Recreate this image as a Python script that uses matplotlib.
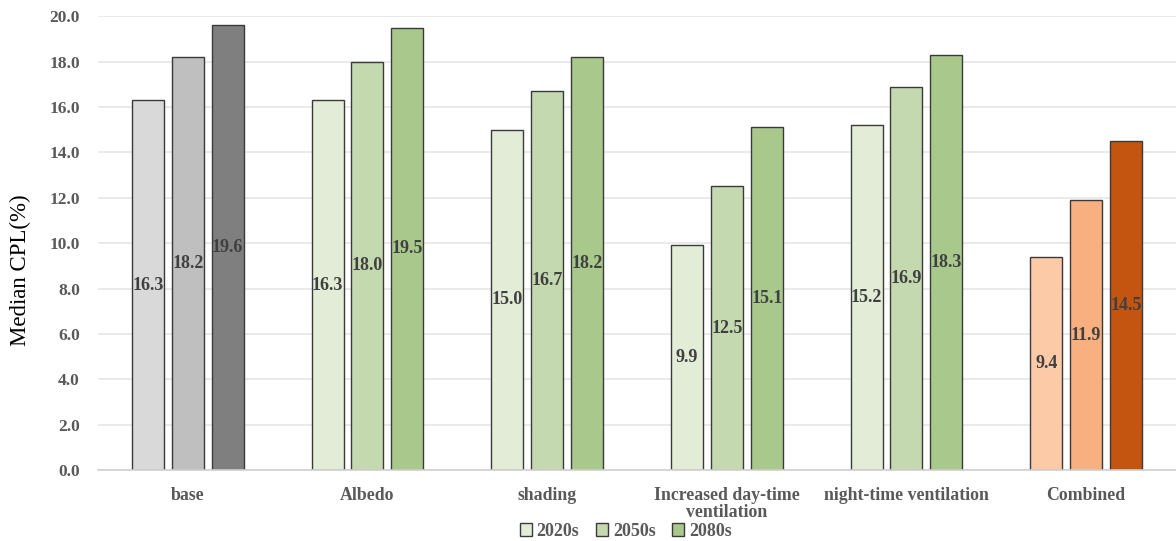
import numpy as np
import matplotlib.pyplot as plt

categories = ["base", "Albedo", "shading", "Increased day-time\nventilation",
              "night-time ventilation", "Combined"]
periods = ["2020s", "2050s", "2080s"]
v2020 = [16.3, 16.3, 15.0, 9.9, 15.2, 9.4]
v2050 = [18.2, 18.0, 16.7, 12.5, 16.9, 11.9]
v2080 = [19.6, 19.5, 18.2, 15.1, 18.3, 14.5]

# per-group colour sets: grey for base, green for measures, orange for combined
grey = ["#d9d9d9", "#bfbfbf", "#7f7f7f"]
green = ["#e2ecd6", "#c5d9b0", "#a8c98b"]
orange = ["#fdcaa8", "#f8b080", "#c35510"]
group_colors = [grey, green, green, green, green, orange]

serif = "Liberation Serif"
x = np.arange(len(categories))
width = 0.178
step = 0.222

fig = plt.figure(figsize=(11.76, 5.41), dpi=100)
ax = fig.add_axes([0.0833, 0.131, 0.9167, 0.839])

series = [v2020, v2050, v2080]
for j, vals in enumerate(series):
    cols = [gc[j] for gc in group_colors]
    bars = ax.bar(x + (j - 1) * step, vals, width, color=cols,
                  edgecolor="#3a3a3a", linewidth=1.0, zorder=3,
                  label=periods[j])
    for b, v in zip(bars, vals):
        ax.text(b.get_x() + b.get_width() / 2, v / 2, f"{v:.1f}",
                ha="center", va="center", fontsize=13, fontweight="bold",
                family=serif, color="#404040", zorder=4)

ax.set_xlim(-0.5, 5.5)
ax.set_ylim(0, 20)
ax.set_yticks(np.arange(0, 20.1, 2))
ax.set_yticklabels([f"{t:.1f}" for t in np.arange(0, 20.1, 2)])
ax.set_xticks(x)
ax.set_xticklabels(categories)
ax.grid(axis="y", color="#e6e6e6", linewidth=1.2, zorder=0)
for s in ["top", "right", "left"]:
    ax.spines[s].set_visible(False)
ax.spines["bottom"].set_color("#d0d0d0")
ax.spines["bottom"].set_linewidth(1.2)
ax.spines["bottom"].set_zorder(5)
ax.tick_params(axis="both", length=0, labelcolor="#595959")
ax.tick_params(axis="y", pad=13)
ax.tick_params(axis="x", pad=12)
for lbl in ax.get_yticklabels():
    lbl.set_family(serif)
    lbl.set_fontweight("bold")
    lbl.set_fontsize(12.5)
for lbl in ax.get_xticklabels():
    lbl.set_family(serif)
    lbl.set_fontweight("bold")
    lbl.set_fontsize(12.8)
    lbl.set_linespacing(1.05)

ax.set_ylabel("Median CPL(%)", family=serif, fontsize=16.5, color="#000000")
ax.yaxis.set_label_coords(-0.062, 0.44)

# legend shows the green scheme only
handles = [plt.Rectangle((0, 0), 1, 1, facecolor=c, edgecolor="#3a3a3a",
                         linewidth=1.0) for c in green]
leg = fig.legend(handles, periods, loc="center", bbox_to_anchor=(0.532, 0.018),
                 ncol=3, frameon=False, handlelength=0.7, handleheight=0.7,
                 handletextpad=0.25, columnspacing=0.9,
                 prop={"family": serif, "weight": "bold", "size": 13})
for t in leg.get_texts():
    t.set_color("#595959")

fig.savefig("out.png", dpi=100)
